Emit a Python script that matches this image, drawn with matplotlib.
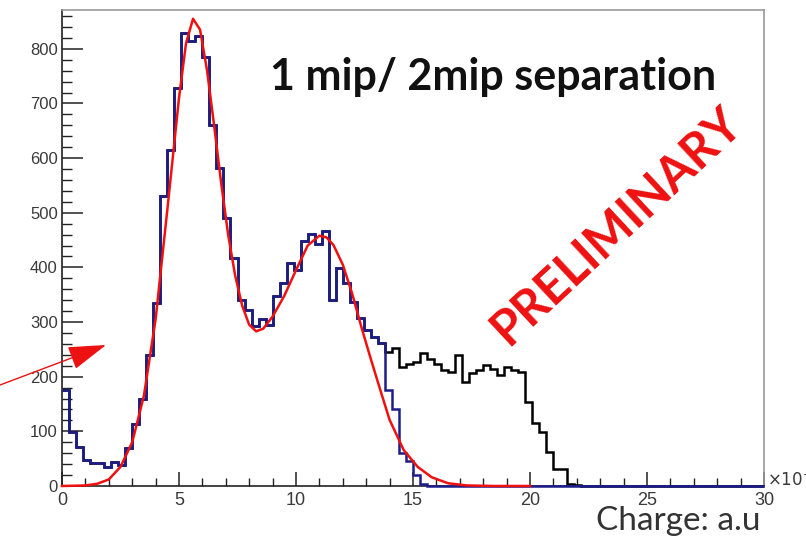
import matplotlib
matplotlib.use("Agg")
import matplotlib.pyplot as plt
from matplotlib.ticker import MultipleLocator
import numpy as np

# histogram: 100 bins from 0 to 30 (x 1e-6)
x_min = 0
x_max = 30
n_bins = 100

# blue histogram (fitted part), counts per bin
blue_counts = [175, 99, 72, 48, 43, 43, 35, 44, 38, 69,
               113, 160, 240, 335, 530, 614, 729, 829, 815, 823,
               785, 660, 581, 490, 417, 340, 322, 293, 305, 295,
               347, 372, 408, 396, 448, 462, 442, 466, 341, 398,
               371, 337, 307, 285, 273, 262, 175, 140, 60, 45,
               20, 3, 0, 0, 0, 0, 0, 0, 0, 0,
               0, 0, 0, 0, 0, 0, 0, 0, 0, 0,
               0, 0, 0, 0, 0, 0, 0, 0, 0, 0,
               0, 0, 0, 0, 0, 0, 0, 0, 0, 0,
               0, 0, 0, 0, 0, 0, 0, 0, 0, 0]

# black histogram (full sample) - same as blue up to bin 45, then the 2 mip tail
black_tail = [246, 252, 218, 224, 227, 243, 233, 224, 212, 209,
              240, 191, 206, 212, 221, 215, 203, 218, 212, 209,
              154, 115, 99, 63, 31, 31, 4, 2]
black_counts = blue_counts[:46] + black_tail
black_counts = black_counts + [0] * (n_bins - len(black_counts))

# red fit curve
fit_x = [0, 1.0, 1.5, 2.0, 2.5, 3.0, 3.5, 4.0, 4.5, 5.0,
         5.3, 5.6, 5.9, 6.2, 6.5, 6.8, 7.1, 7.4, 7.7, 8.0,
         8.3, 8.6, 9.0, 9.5, 10.0, 10.5, 11.0, 11.3, 11.6, 12.0,
         12.4, 12.8, 13.2, 13.6, 14.0, 14.6, 15.2, 15.8, 16.5, 17.3,
         18.5, 20.0]
fit_y = [0, 1, 4, 12, 35, 80, 165, 305, 505, 710,
         810, 855, 835, 760, 660, 555, 460, 385, 330, 295,
         283, 288, 310, 348, 395, 440, 458, 455, 441, 405,
         352, 290, 232, 176, 121, 66, 35, 16, 5, 1,
         0, 0]

edges = np.linspace(x_min, x_max, n_bins + 1)

W, H = 806, 542
fig = plt.figure(figsize=(W / 100, H / 100), dpi=100)
ax = fig.add_axes([62 / W, (H - 486) / H, (764 - 62) / W, (486 - 10) / H])

ax.stairs(black_counts, edges, baseline=None, color="black", lw=1.8, clip_on=False, zorder=2)
ax.stairs(blue_counts, edges, baseline=None, color="#1c1c8a", lw=1.8, clip_on=False, zorder=3)
ax.plot(fit_x, fit_y, color="#f01010", lw=1.8, zorder=4, clip_on=False)

ax.set_xlim(x_min, x_max)
ax.set_ylim(0, 871)

ax.xaxis.set_major_locator(MultipleLocator(5))
ax.xaxis.set_minor_locator(MultipleLocator(1))
ax.yaxis.set_major_locator(MultipleLocator(100))
ax.yaxis.set_minor_locator(MultipleLocator(20))
ax.tick_params(axis="both", which="both", direction="in", colors="#222222", labelcolor="#3a3a3a")
ax.tick_params(axis="y", which="major", length=15, width=1.1, labelsize=12, pad=3)
ax.tick_params(axis="y", which="minor", length=7, width=1.0)
ax.tick_params(axis="x", which="major", length=10, width=1.1, labelsize=13, pad=4)
ax.tick_params(axis="x", which="minor", length=6, width=1.0)
for lab in ax.get_xticklabels() + ax.get_yticklabels():
    lab.set_family("Liberation Sans")

ax.spines["left"].set_color("#222222")
ax.spines["bottom"].set_color("#222222")
ax.spines["top"].set_color("#999999")
ax.spines["right"].set_color("#999999")
for s in ax.spines.values():
    s.set_linewidth(1.2)

# exponent label at the end of the x axis (cut by the right edge, as in the original)
fig.text(767 / W, (H - 479) / H, r"$\times10^{-6}$", fontsize=12, color="#3a3a3a",
         family="Liberation Sans", ha="left", va="center")

# axis title
fig.text(761 / W, (H - 521) / H, "Charge: a.u", fontsize=24, color="#333333",
         family="Lato", ha="right", va="center")

# annotations
fig.text(493 / W, (H - 77) / H, "1 mip/ 2mip separation", fontsize=31, fontweight="bold",
         color="#111111", family="Lato", ha="center", va="center")
fig.text(616 / W, (H - 226) / H, "PRELIMINARY", fontsize=35, fontweight="bold",
         color="#ee1111", family="Lato", ha="center", va="center", rotation=43,
         rotation_mode="anchor")

ax.annotate("", xy=(106, H - 345), xytext=(0, H - 385),
            xycoords="figure pixels", textcoords="figure pixels",
            arrowprops=dict(arrowstyle="-|>,head_length=2.4,head_width=0.75",
                            color="#ee1111", lw=1.0, shrinkA=0, shrinkB=0,
                            mutation_scale=10),
            annotation_clip=False)

fig.savefig("out.png", dpi=100)
